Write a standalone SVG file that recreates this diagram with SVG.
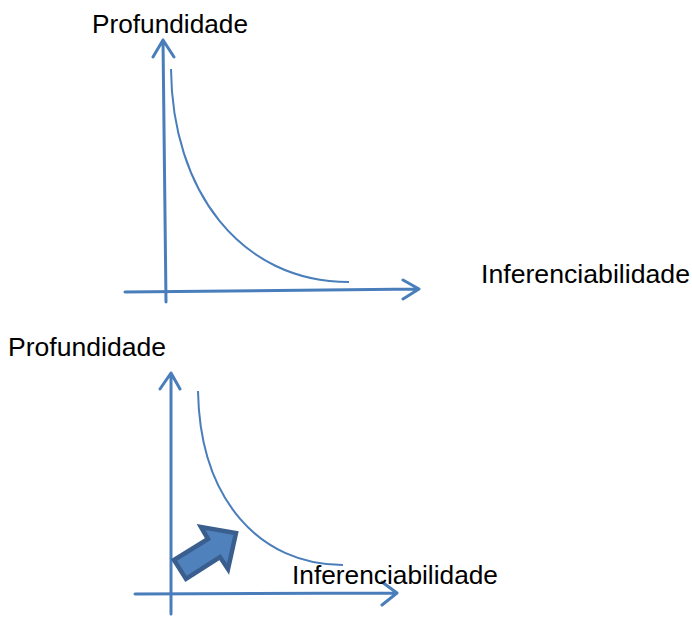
<svg xmlns="http://www.w3.org/2000/svg" width="692" height="618" viewBox="0 0 692 618">
<style>
.axis{fill:none;stroke:#4a7ebb;stroke-width:3;stroke-linecap:round;stroke-linejoin:round}
.curve{fill:none;stroke:#4a7ebb;stroke-width:2}
.lbl{font-family:"Liberation Sans",Arial,sans-serif;font-size:25px;fill:#000}
</style>
<rect width="692" height="618" fill="#fff"/>
<g id="chart-top">
<path class="axis" d="M166,302 L163,40 M153,57 L163,40 L174,57"/>
<path class="axis" d="M125,292 L419,289 M403,280 L419,289 L403,299"/>
<path class="curve" d="M171,69 C172,190 240,282 349,282"/>
<text class="lbl" x="92" y="33" textLength="156" lengthAdjust="spacingAndGlyphs">Profundidade</text>
<text class="lbl" x="481" y="283" textLength="209" lengthAdjust="spacingAndGlyphs">Inferenciabilidade</text>
</g>
<g id="chart-bottom">
<path class="axis" d="M171,614 L171,373 M160,389 L171,373 L180,389"/>
<path class="axis" d="M135,594 L397,593 M382,582 L397,593 L382,605"/>
<path class="curve" d="M198,391 C200,500 260,565 343,565"/>
<polygon points="174,560 208,539 201,527 236,533 228,569 220,557 186,579" fill="#4f81bd" stroke="#3a5f8f" stroke-width="4.5" stroke-linejoin="miter"/>
<text class="lbl" x="8" y="356" textLength="158" lengthAdjust="spacingAndGlyphs">Profundidade</text>
<text class="lbl" x="292" y="584" textLength="206" lengthAdjust="spacingAndGlyphs">Inferenciabilidade</text>
</g>
</svg>
